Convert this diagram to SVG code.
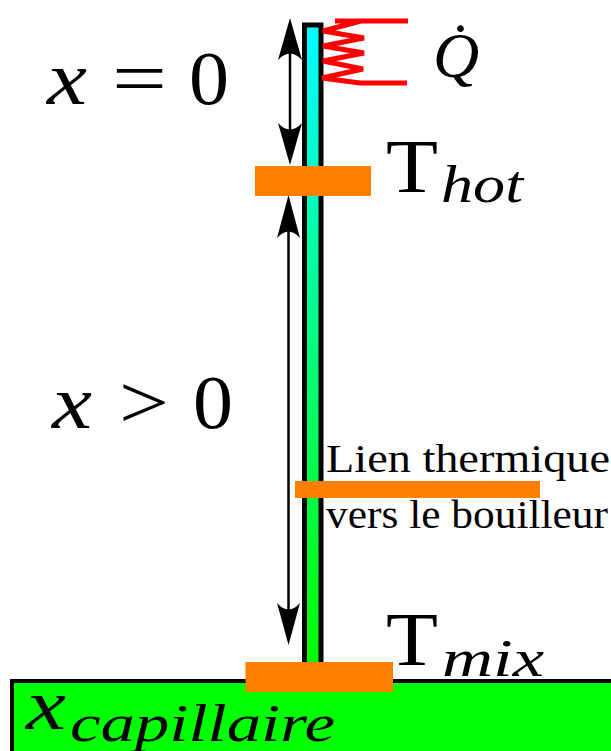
<svg xmlns="http://www.w3.org/2000/svg" width="611" height="751" viewBox="0 0 611 751">
<style>
text{font-family:"Liberation Serif","Times New Roman",serif;fill:#000}
.i{font-style:italic}
.o{fill:#ff7f00}
.l{font-size:77px}
.s{font-size:52px;font-style:italic}
.t{font-size:41px}
.T{font-size:76px}
</style>
<defs>
<linearGradient id="g" x1="0" y1="27" x2="0" y2="662" gradientUnits="userSpaceOnUse"><stop offset="0" stop-color="#0ff"/><stop offset="1" stop-color="#0f0"/></linearGradient>
</defs>
<rect width="611" height="751" fill="#fff"/>
<g id="capillaire"><rect x="12" y="681" width="610" height="90" fill="#0f0" stroke="#000" stroke-width="4"/>
<text x="26" y="729" font-size="72" class="i" textLength="40" lengthAdjust="spacingAndGlyphs">x</text>
<text x="70" y="741" class="s" textLength="265" lengthAdjust="spacingAndGlyphs">capillaire</text></g>
<g id="tube"><rect x="304.500" y="25" width="16.500" height="640" fill="url(#g)" stroke="#000" stroke-width="5"/></g>
<g id="connectors">
<path d="M290 50V135" stroke="#000" stroke-width="2.500" fill="none"/>
<path d="M290 18L302 60Q290 47 278 60Z"/>
<path d="M290 165L302 123Q290 136 278 123Z"/>
<path d="M288.500 225V615" stroke="#000" stroke-width="2.500" fill="none"/>
<path d="M288.500 195L300 238Q288.500 225 277 238Z"/>
<path d="M288.500 645L300 603Q288.500 616 277 603Z"/>
</g>
<g id="heat"><path d="M335 21H408M361 21L323 31L364 38L323 46L364 53L323 61L363 69L322 78L360 83H407" fill="none" stroke="#f00" stroke-width="5" stroke-miterlimit="3"/>
<text x="433" y="77" font-size="64" class="i">Q̇</text></g>
<g id="x0">
<text x="47" y="104" class="l i" textLength="40" lengthAdjust="spacingAndGlyphs">x</text>
<text x="112" y="104" class="l" textLength="55" lengthAdjust="spacingAndGlyphs">=</text>
<text x="189" y="104" class="l" textLength="40" lengthAdjust="spacingAndGlyphs">0</text></g>
<g id="xpos">
<text x="52" y="428" class="l i" textLength="40" lengthAdjust="spacingAndGlyphs">x</text>
<text x="119" y="428" class="l" textLength="50" lengthAdjust="spacingAndGlyphs">&gt;</text>
<text x="193" y="428" class="l" textLength="40" lengthAdjust="spacingAndGlyphs">0</text></g>
<g id="thot"><rect class="o" x="255" y="166" width="116" height="30"/>
<text x="386" y="192" class="T" textLength="52" lengthAdjust="spacingAndGlyphs">T</text>
<text x="441" y="202" class="s" textLength="82" lengthAdjust="spacingAndGlyphs">hot</text></g>
<g id="lien"><rect class="o" x="295" y="481" width="245" height="17"/>
<text x="326" y="472" class="t" textLength="284" lengthAdjust="spacingAndGlyphs">Lien thermique</text>
<text x="326" y="528" class="t" textLength="282" lengthAdjust="spacingAndGlyphs">vers le bouilleur</text></g>
<g id="tmix"><rect class="o" x="245.500" y="662" width="147.500" height="30"/>
<text x="386" y="665" class="T" textLength="52" lengthAdjust="spacingAndGlyphs">T</text>
<text x="442" y="676" class="s" textLength="102" lengthAdjust="spacingAndGlyphs">mix</text></g>
</svg>
